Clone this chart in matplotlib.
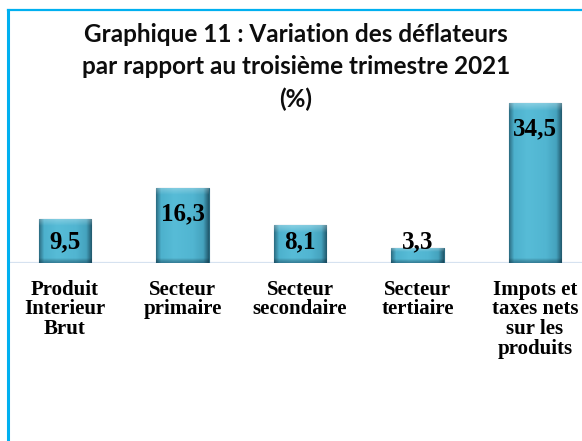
import numpy as np
import matplotlib
matplotlib.use("Agg")
import matplotlib.pyplot as plt
from matplotlib.colors import LinearSegmentedColormap
from matplotlib.lines import Line2D

# ── données ───────────────────────────────────────────────
categories = ["Produit\nInterieur\nBrut", "Secteur\nprimaire", "Secteur\nsecondaire",
              "Secteur\ntertiaire", "Impots et\ntaxes nets\nsur les\nproduits"]
values = [9.5, 16.3, 8.1, 3.3, 34.5]
value_labels = ["9,5", "16,3", "8,1", "3,3", "34,5"]

title = ("Graphique 11 : Variation des déflateurs\n"
         "par rapport au troisième trimestre 2021\n(%)")

W, H = 582, 441
fig = plt.figure(figsize=(W / 100, H / 100), dpi=100)

# axe : ligne de base à y=263 px, 4.63 px par unité
base_px, top_px = 263, 10
ax = fig.add_axes([7 / W, (H - base_px) / H, (W - 7) / W, (base_px - top_px) / H])
ax.set_xlim(-0.494, 4.40)
ax.set_ylim(0, (base_px - top_px) / 4.63)
ax.axis("off")
ax.axhline(0, color="#D6E2F0", lw=1.6, zorder=1)

# dégradé horizontal façon barre 3D
grad = LinearSegmentedColormap.from_list(
    "bar3d", [(0.0, "#2D6F85"), (0.09, "#4DB1CD"), (0.35, "#57BCD7"),
              (0.7, "#51B5D1"), (0.9, "#45A3BE"), (1.0, "#235C70")])
g = np.linspace(0, 1, 64).reshape(1, -1)
vg = LinearSegmentedColormap.from_list("top", [(1, 1, 1, 0.30), (1, 1, 1, 0.0)])
vb = LinearSegmentedColormap.from_list("bot", [(0, 0, 0, 0.0), (0.05, 0.2, 0.3, 0.45)])

width = 0.45
x = np.arange(len(values))
bars = ax.bar(x, values, width, color="#4BAFCB", edgecolor="#2A6A80", lw=0.8, zorder=2)
for b in bars:
    x0, x1 = b.get_x(), b.get_x() + b.get_width()
    h = b.get_height()
    im = ax.imshow(g, cmap=grad, aspect="auto", extent=(x0, x1, 0, h), zorder=3)
    im.set_clip_path(b)
    # reflet en haut, ombre en bas
    cap = min(h * 0.25, 1.6)
    im2 = ax.imshow(np.linspace(0, 1, 32).reshape(-1, 1), cmap=vg, aspect="auto",
                    extent=(x0, x1, h - cap, h), zorder=4)
    im2.set_clip_path(b)
    im3 = ax.imshow(np.linspace(0, 1, 32).reshape(-1, 1), cmap=vb, aspect="auto",
                    extent=(x0, x1, 0, min(h * 0.2, 1.0)), zorder=4)
    im3.set_clip_path(b)

for xi, v, lab in zip(x, values, value_labels):
    ax.text(xi, max(v - 5.6, 4.5), lab, ha="center", va="center", fontsize=18,
            fontweight="bold", family="Liberation Serif", color="black", zorder=5)

for xi, cat in zip(x, categories):
    ax.text(xi, -3.6, cat, ha="center", va="top", fontsize=15, fontweight="bold",
            family="Liberation Serif", linespacing=0.98, color="black")

fig.text(296 / W, 1 - 67 / H, title, ha="center", va="center", fontsize=17.5,
         fontweight="bold", family="Lato", linespacing=1.48, color="#0D0D0D")

# cadre bleu (gauche + haut)
fig.add_artist(Line2D([7.5 / W, 7.5 / W], [0, 1 - 10 / H], color="#00B0F0", lw=2.2))
fig.add_artist(Line2D([7.5 / W, 1], [1 - 10 / H, 1 - 10 / H], color="#00B0F0", lw=1.6))

fig.savefig("out.png", dpi=100)
